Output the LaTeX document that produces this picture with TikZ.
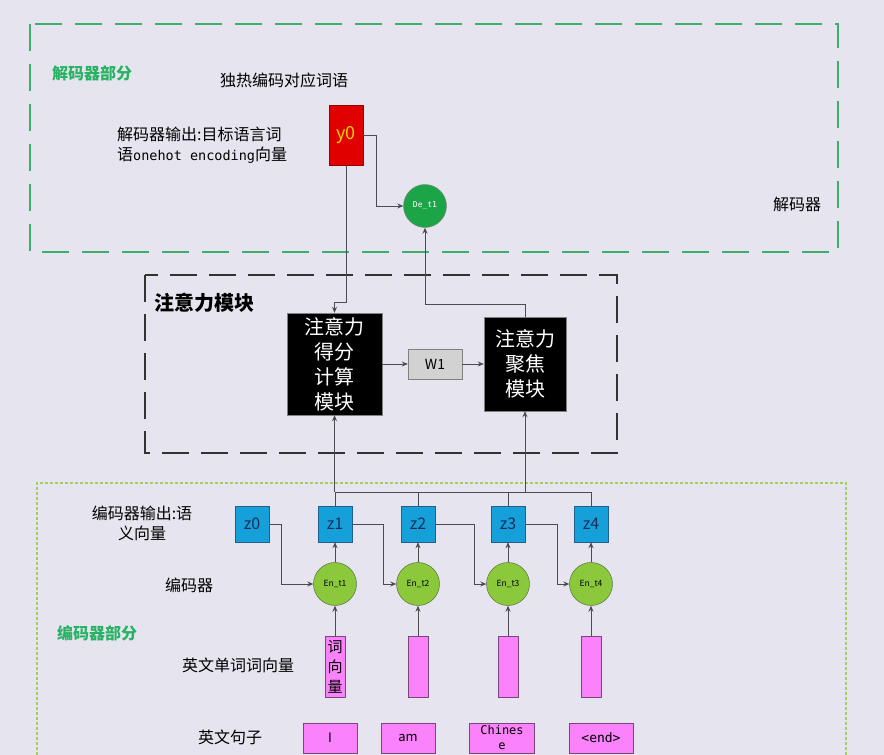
\documentclass[tikz,border=0pt]{standalone}
\usepackage{fontspec}
\setmainfont{Noto Sans CJK SC}
\newfontfamily\latinmono{DejaVu Sans Mono}
\usetikzlibrary{arrows.meta}
\definecolor{bgcol}{RGB}{230,228,238}
\definecolor{linecol}{RGB}{75,75,80}
\definecolor{titlegreen}{RGB}{40,178,100}
\definecolor{decgreen}{RGB}{60,175,110}
\definecolor{encgreen}{RGB}{165,205,95}
\definecolor{zfill}{RGB}{22,160,218}
\definecolor{zborder}{RGB}{35,95,140}
\definecolor{znavy}{RGB}{25,45,90}
\definecolor{enfill}{RGB}{140,200,60}
\definecolor{enborder}{RGB}{70,95,45}
\definecolor{defill}{RGB}{28,165,70}
\definecolor{vecfill}{RGB}{250,130,250}
\definecolor{vecborder}{RGB}{120,70,120}
\definecolor{yzero}{RGB}{225,0,0}
\definecolor{yzerotext}{RGB}{245,210,0}
\begin{document}
\begin{tikzpicture}[x=1pt,y=-1pt,
    line/.style={draw=linecol, line width=0.8pt},
    arr/.style={line, -{Stealth[length=6pt,width=5pt]}},
    lbl/.style={font=\fontsize{16}{20}\selectfont, align=center, inner sep=0pt},
    parttitle/.style={font=\fontsize{16}{20}\selectfont\bfseries, text=titlegreen, inner sep=0pt},
    zbox/.style={draw=zborder, fill=zfill, minimum width=34pt, minimum height=36pt, inner sep=0pt,
      text=znavy, font=\fontsize{16}{16}\selectfont},
    encircle/.style={circle, draw=enborder, fill=enfill, minimum size=43pt, inner sep=0pt,
      font=\fontsize{8.5}{9}\selectfont},
    vecbox/.style={draw=vecborder, fill=vecfill, minimum width=20pt, minimum height=61pt, inner sep=0pt,
      align=center, font=\fontsize{15}{20}\selectfont},
    wordbox/.style={draw=vecborder, fill=vecfill, minimum height=30pt, inner sep=0pt,
      align=center, font=\fontsize{13}{16}\selectfont},
    attbox/.style={draw=gray, fill=black, text=white, inner sep=0pt, align=center,
      font=\fontsize{20}{25}\selectfont}]

% background and frames
\fill[bgcol] (0,0) rectangle (884,755);
\useasboundingbox (0,0) rectangle (884,755);
\draw[decgreen, line width=2.2pt, dash pattern=on 27pt off 13pt] (30,24) rectangle (838,252);
\draw[black!80, line width=2pt, dash pattern=on 27pt off 12pt] (145,275) rectangle (617,453);
\draw[encgreen, line width=1.6pt, dash pattern=on 3pt off 2pt] (37,755) -- (37,483) -- (846,483) -- (846,755);

% decoder part
\node[parttitle, anchor=west] (dectitle) at (52,73) {解码器部分};
\node[lbl] (onehot) at (284,80) {独热编码对应词语};
\node[lbl, align=left, anchor=west] (decout) at (117,145)
  {解码器输出:目标语言词\\语{\latinmono\fontsize{13.5}{20}\selectfont onehot encoding}向量};
\node[lbl] (declbl) at (797,204) {解码器};
\node[draw=red!60!black, fill=yzero, minimum width=34pt, minimum height=60pt, inner sep=0pt,
  text=yzerotext, font=\fontsize{18}{18}\selectfont] (y0) at (346,135) {y0};
\node[circle, draw=gray, fill=defill, minimum size=43pt, inner sep=0pt, text=white,
  font=\latinmono\fontsize{8}{8}\selectfont] (det) at (425,206) {De\_t1};

% attention module
\node[font=\fontsize{20}{20}\selectfont\bfseries, anchor=west, inner sep=0pt] (atttitle) at (154,303) {注意力模块};
\node[attbox, minimum width=95pt, minimum height=102pt] (score) at (334.5,364) {注意力\\得分\\计算\\模块};
\node[draw=gray, fill=gray!35, minimum width=54pt, minimum height=30pt, inner sep=0pt,
  font=\fontsize{14}{14}\selectfont] (w1) at (435,364) {W1};
\node[attbox, minimum width=82pt, minimum height=94pt] (focus) at (525,364) {注意力\\聚焦\\模块};

\draw[arr] (y0.south) -- ++(0,137) -| (score.north);
\draw[arr] (y0.east) -- ++(13,0) |- (det.west);
\draw[arr] (focus.north) -- ++(0,-12) -| (det.south);
\draw[arr] (score.east) -- (w1.west);
\draw[arr] (w1.east) -- (focus.west);

% encoder part
\node[lbl] (encout) at (142,523) {编码器输出:语\\义向量};
\node[lbl] (enclbl) at (189,585) {编码器};
\node[parttitle, anchor=west] (enctitle) at (57,633) {编码器部分};
\node[lbl] (veclbl) at (238,665) {英文单词词向量};
\node[lbl] (sentlbl) at (230,737) {英文句子};

\node[zbox] (z0) at (252,524) {z0};
\foreach \i/\x in {1/335,2/418,3/508,4/591}{
  \node[zbox] (z\i) at (\x,524) {z\i};
  \node[encircle] (e\i) at (\x,584) {En\_t\i};
  \draw[arr] (e\i.north) -- (z\i.south);
}
\node[vecbox] (v1) at (335,666.5) {词\\向\\量};
\node[vecbox] (v2) at (418,666.5) {};
\node[vecbox] (v3) at (508,666.5) {};
\node[vecbox] (v4) at (591,666.5) {};
\foreach \i in {1,...,4}
  \draw[arr] (v\i.north) -- (e\i.south);

\foreach \a/\b/\d in {z0/e1/12, z1/e2/31, z2/e3/39, z3/e4/32}
  \draw[arr] (\a.east) -- ++(\d,0) |- (\b.west);

% bus to the attention module
\coordinate (busL) at (335,492);
\coordinate (busR) at (591,492);
\draw[line] (z1.north) -- (busL) -- (busR) -- (z4.north);
\draw[line] (z2.north) -- (z2.north |- busL);
\draw[line] (z3.north) -- (z3.north |- busL);
\draw[arr] (score.south |- busL) -- (score.south);
\draw[arr] (focus.south |- busL) -- (focus.south);

% sentence
\node[wordbox, minimum width=54pt] (wI) at (330,738) {I};
\node[wordbox, minimum width=54pt] (wam) at (408,738) {am};
\node[wordbox, minimum width=65pt, font=\latinmono\fontsize{12}{15}\selectfont] (wch) at (502,738) {Chines\\e};
\node[wordbox, minimum width=64pt, font=\latinmono\fontsize{13}{16}\selectfont] (wend) at (601,738) {<end>};

\end{tikzpicture}
\end{document}
